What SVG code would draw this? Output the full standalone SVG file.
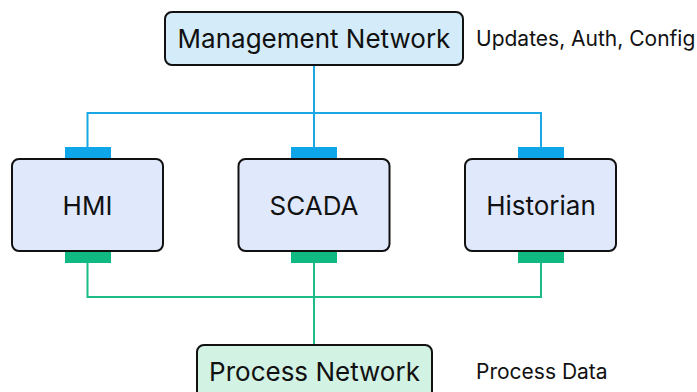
<svg xmlns="http://www.w3.org/2000/svg" width="697" height="392" viewBox="0 0 697 392">
  <style>
    .node rect.box { stroke: #111; stroke-width: 2; }
    .label { font-family: Inter, "Noto Sans", "Liberation Sans", sans-serif; fill: #111; text-anchor: middle; dominant-baseline: central; font-size: 26px; }
    .note { font-family: Inter, "Noto Sans", "Liberation Sans", sans-serif; fill: #111; font-size: 21px; }
    .mgmt { fill: none; stroke: #1ba7e3; stroke-width: 2; }
    .proc { fill: none; stroke: #1dbb86; stroke-width: 2; }
    .port-top { fill: #0ea5e9; }
    .port-bot { fill: #10b981; }
    .host { fill: #e0e8fb; }
  </style>
  <rect width="697" height="392" fill="#ffffff"/>

  <!-- connectors -->
  <g id="connectors">
    <path class="mgmt" d="M314 65 V113 M87.5 147 V113 H541 V147 M314 113 V147"/>
    <path class="proc" d="M87.5 263 V297 H541 V263 M314 263 V345"/>
  </g>

  <g id="management-network" class="node">
    <rect class="box" x="165" y="12" width="298" height="53" rx="7" fill="#d4ecf9"/>
    <text class="label" x="314" y="38">Management Network</text>
  </g>

  <g id="hmi" class="node">
    <rect class="port-top" x="65" y="147" width="46" height="12"/>
    <rect class="port-bot" x="65" y="251" width="46" height="12"/>
    <rect class="box host" x="12" y="159" width="151" height="92" rx="7"/>
    <text class="label" x="87.5" y="205">HMI</text>
  </g>

  <g id="scada" class="node">
    <rect class="port-top" x="291" y="147" width="46" height="12"/>
    <rect class="port-bot" x="291" y="251" width="46" height="12"/>
    <rect class="box host" x="238.5" y="159" width="151" height="92" rx="7"/>
    <text class="label" x="314" y="205">SCADA</text>
  </g>

  <g id="historian" class="node">
    <rect class="port-top" x="518" y="147" width="46" height="12"/>
    <rect class="port-bot" x="518" y="251" width="46" height="12"/>
    <rect class="box host" x="465" y="159" width="151" height="92" rx="7"/>
    <text class="label" x="541" y="205">Historian</text>
  </g>

  <g id="process-network" class="node">
    <rect class="box" x="197" y="345" width="235" height="53" rx="7" fill="#d2f2e3"/>
    <text class="label" x="314.5" y="371">Process Network</text>
  </g>

  <text class="note" x="476" y="45.5">Updates, Auth, Config</text>
  <text class="note" x="476" y="378.5">Process Data</text>
</svg>
